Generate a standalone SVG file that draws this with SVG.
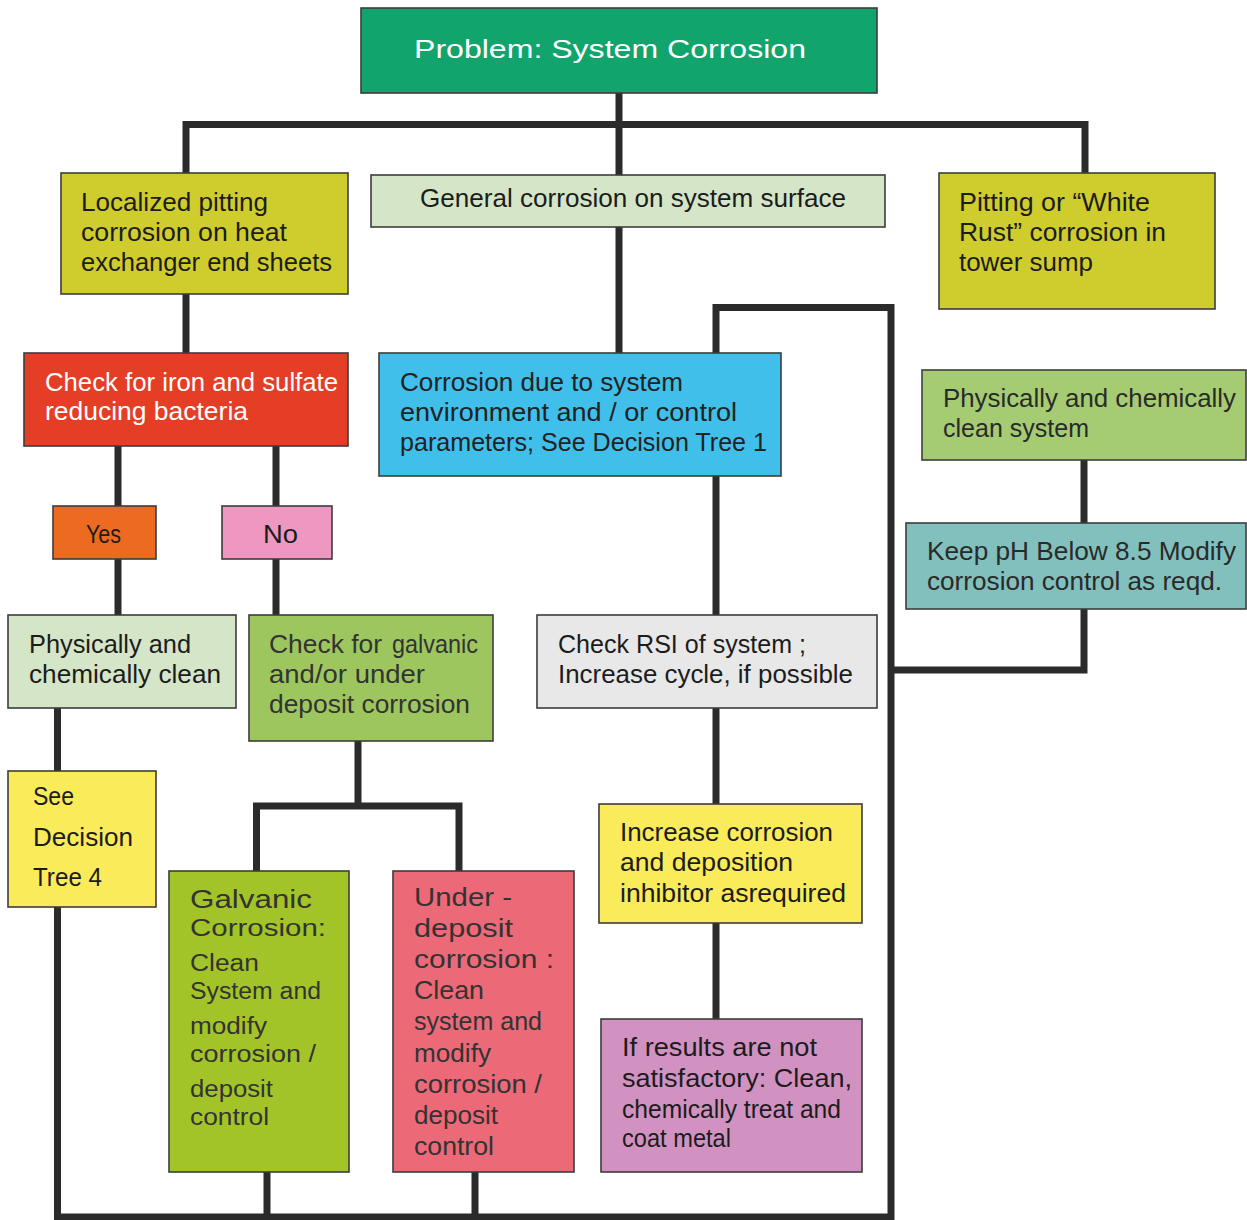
<svg xmlns="http://www.w3.org/2000/svg" width="1247" height="1220" viewBox="0 0 1247 1220">
<style>
.box{stroke:#3c3c3c;stroke-width:1.6}
.t{font-family:"Liberation Sans Narrow","Liberation Sans",Arial,sans-serif;font-size:26px;fill:#1c1c1c}
.w{fill:#ffffff}
.d{fill:#333333}
.g{font-size:23px}
.c{fill:none;stroke:#2b2b2b;stroke-width:7}
</style>
<rect width="1247" height="1220" fill="#ffffff"/>
<g id="connectors">
<path class="c" d="M619 93 V355"/>
<path class="c" d="M186 174 V124.5 H1085 V173"/>
<path class="c" d="M186 294 V353"/>
<path class="c" d="M118 446 V506 M276 446 V506"/>
<path class="c" d="M118 559 V615 M276 559 V615"/>
<path class="c" d="M57.5 708 V771"/>
<path class="c" d="M57.5 907 V1217 H891 V307.5 H716 V353"/>
<path class="c" d="M267 1172 V1217 M475 1172 V1217"/>
<path class="c" d="M256.5 871 V806 H459 V871 M358 741 V806"/>
<path class="c" d="M716 476 V615 M716 708 V804 M716 923 V1019"/>
<path class="c" d="M1084 460 V523 M1084 609 V670 H891"/>
</g>
<g id="n-problem">
<rect class="box" x="361" y="8" width="516" height="85" fill="#11a46c"/>
<text class="t w" x="414" y="58" font-size="28" textLength="392" lengthAdjust="spacingAndGlyphs">Problem:  System Corrosion</text>
</g>
<g id="n-localized">
<rect class="box" x="61" y="173" width="287" height="121" fill="#cfcd2e"/>
<text class="t" x="81" y="211" textLength="187" lengthAdjust="spacingAndGlyphs">Localized pitting</text>
<text class="t" x="81" y="241" textLength="206" lengthAdjust="spacingAndGlyphs">corrosion on heat</text>
<text class="t" x="81" y="271" textLength="251" lengthAdjust="spacingAndGlyphs">exchanger end sheets</text>
</g>
<g id="n-general">
<rect class="box" x="371" y="175" width="514" height="52" fill="#d5e5c8"/>
<text class="t" x="420" y="207" textLength="426" lengthAdjust="spacingAndGlyphs">General corrosion on system surface</text>
</g>
<g id="n-pitting">
<rect class="box" x="939" y="173" width="276" height="136" fill="#cfcd2e"/>
<text class="t" x="959" y="211" textLength="191" lengthAdjust="spacingAndGlyphs">Pitting or “White</text>
<text class="t" x="959" y="241" textLength="207" lengthAdjust="spacingAndGlyphs">Rust” corrosion in</text>
<text class="t" x="959" y="271" textLength="134" lengthAdjust="spacingAndGlyphs">tower sump</text>
</g>
<g id="n-checkiron">
<rect class="box" x="24" y="353" width="324" height="93" fill="#e53e27"/>
<text class="t w" x="45" y="391" textLength="293" lengthAdjust="spacingAndGlyphs">Check for iron and sulfate</text>
<text class="t w" x="45" y="420" textLength="203" lengthAdjust="spacingAndGlyphs">reducing bacteria</text>
</g>
<g id="n-environment">
<rect class="box" x="379" y="353" width="402" height="123" fill="#40bfeb"/>
<text class="t" x="400" y="391" textLength="283" lengthAdjust="spacingAndGlyphs" style="fill:#222">Corrosion due to system</text>
<text class="t" x="400" y="421" textLength="337" lengthAdjust="spacingAndGlyphs" style="fill:#222">environment and / or control</text>
<text class="t" x="400" y="451" textLength="367" lengthAdjust="spacingAndGlyphs" style="fill:#222">parameters; See Decision Tree 1</text>
</g>
<g id="n-cleansystem">
<rect class="box" x="922" y="370" width="324" height="90" fill="#a5cc72"/>
<text class="t" x="943" y="407" textLength="293" lengthAdjust="spacingAndGlyphs" style="fill:#2a2a2a">Physically and chemically</text>
<text class="t" x="943" y="437" textLength="146" lengthAdjust="spacingAndGlyphs" style="fill:#2a2a2a">clean system</text>
</g>
<g id="n-yes">
<rect class="box" x="53" y="506" width="103" height="53" fill="#ec6b21"/>
<text class="t" x="86" y="543" textLength="35" lengthAdjust="spacingAndGlyphs">Yes</text>
</g>
<g id="n-no">
<rect class="box" x="222" y="506" width="110" height="53" fill="#ee98c1"/>
<text class="t" x="263" y="543" textLength="35" lengthAdjust="spacingAndGlyphs">No</text>
</g>
<g id="n-keepph">
<rect class="box" x="906" y="523" width="340" height="86" fill="#82c0bd"/>
<text class="t" x="927" y="560" textLength="309" lengthAdjust="spacingAndGlyphs" style="fill:#2a2a2a">Keep pH Below 8.5 Modify</text>
<text class="t" x="927" y="590" textLength="295" lengthAdjust="spacingAndGlyphs" style="fill:#2a2a2a">corrosion control as reqd.</text>
</g>
<g id="n-physclean">
<rect class="box" x="8" y="615" width="228" height="93" fill="#d5e5c8"/>
<text class="t" x="29" y="653" textLength="162" lengthAdjust="spacingAndGlyphs">Physically and</text>
<text class="t" x="29" y="683" textLength="192" lengthAdjust="spacingAndGlyphs">chemically clean</text>
</g>
<g id="n-checkgalvanic">
<rect class="box" x="249" y="615" width="244" height="126" fill="#9dc75e"/>
<text class="t d" x="269" y="653" textLength="113" lengthAdjust="spacingAndGlyphs">Check for</text>
<text class="t d" x="392" y="653" font-size="23" textLength="86" lengthAdjust="spacingAndGlyphs">galvanic</text>
<text class="t d" x="269" y="683" textLength="156" lengthAdjust="spacingAndGlyphs">and/or under</text>
<text class="t d" x="269" y="713" textLength="201" lengthAdjust="spacingAndGlyphs">deposit corrosion</text>
</g>
<g id="n-checkrsi">
<rect class="box" x="537" y="615" width="340" height="93" fill="#e8e8e8"/>
<text class="t" x="558" y="653" textLength="248" lengthAdjust="spacingAndGlyphs">Check RSI of system ;</text>
<text class="t" x="558" y="683" textLength="295" lengthAdjust="spacingAndGlyphs">Increase cycle, if possible</text>
</g>
<g id="n-seetree4">
<rect class="box" x="8" y="771" width="148" height="136" fill="#f9eb5a"/>
<text class="t" x="33" y="805" textLength="41" lengthAdjust="spacingAndGlyphs">See</text>
<text class="t" x="33" y="846" textLength="100" lengthAdjust="spacingAndGlyphs">Decision</text>
<text class="t" x="33" y="886" textLength="69" lengthAdjust="spacingAndGlyphs">Tree 4</text>
</g>
<g id="n-increase">
<rect class="box" x="599" y="804" width="263" height="119" fill="#f9eb5a"/>
<text class="t" x="620" y="841" textLength="213" lengthAdjust="spacingAndGlyphs">Increase corrosion</text>
<text class="t" x="620" y="871" textLength="173" lengthAdjust="spacingAndGlyphs">and deposition</text>
<text class="t" x="620" y="902" textLength="226" lengthAdjust="spacingAndGlyphs">inhibitor asrequired</text>
</g>
<g id="n-galvanic">
<rect class="box" x="169" y="871" width="180" height="301" fill="#a3c428"/>
<text class="t d" x="190" y="908" textLength="122" lengthAdjust="spacingAndGlyphs">Galvanic</text>
<text class="t d g" x="190" y="936" textLength="136" lengthAdjust="spacingAndGlyphs">Corrosion:</text>
<text class="t d g" x="190" y="971" textLength="69" lengthAdjust="spacingAndGlyphs">Clean</text>
<text class="t d g" x="190" y="999" textLength="131" lengthAdjust="spacingAndGlyphs">System and</text>
<text class="t d g" x="190" y="1034" textLength="77" lengthAdjust="spacingAndGlyphs">modify</text>
<text class="t d g" x="190" y="1062" textLength="126" lengthAdjust="spacingAndGlyphs">corrosion /</text>
<text class="t d g" x="190" y="1097" textLength="83" lengthAdjust="spacingAndGlyphs">deposit</text>
<text class="t d g" x="190" y="1125" textLength="79" lengthAdjust="spacingAndGlyphs">control</text>
</g>
<g id="n-underdeposit">
<rect class="box" x="393" y="871" width="181" height="301" fill="#ec6978"/>
<text class="t d" x="414" y="906" textLength="98" lengthAdjust="spacingAndGlyphs">Under -</text>
<text class="t d" x="414" y="937" textLength="99" lengthAdjust="spacingAndGlyphs">deposit</text>
<text class="t d" x="414" y="968" textLength="140" lengthAdjust="spacingAndGlyphs">corrosion :</text>
<text class="t d" x="414" y="999" textLength="70" lengthAdjust="spacingAndGlyphs">Clean</text>
<text class="t d" x="414" y="1030" textLength="128" lengthAdjust="spacingAndGlyphs">system and</text>
<text class="t d" x="414" y="1062" textLength="77" lengthAdjust="spacingAndGlyphs">modify</text>
<text class="t d" x="414" y="1093" textLength="128" lengthAdjust="spacingAndGlyphs">corrosion /</text>
<text class="t d" x="414" y="1124" textLength="84" lengthAdjust="spacingAndGlyphs">deposit</text>
<text class="t d" x="414" y="1155" textLength="80" lengthAdjust="spacingAndGlyphs">control</text>
</g>
<g id="n-results">
<rect class="box" x="601" y="1019" width="261" height="153" fill="#d192c1"/>
<text class="t" x="622" y="1056" textLength="195" lengthAdjust="spacingAndGlyphs">If results are not</text>
<text class="t" x="622" y="1087" textLength="230" lengthAdjust="spacingAndGlyphs">satisfactory: Clean,</text>
<text class="t" x="622" y="1118" textLength="219" lengthAdjust="spacingAndGlyphs">chemically treat and</text>
<text class="t" x="622" y="1147" font-size="23" textLength="109" lengthAdjust="spacingAndGlyphs">coat metal</text>
</g>
</svg>
